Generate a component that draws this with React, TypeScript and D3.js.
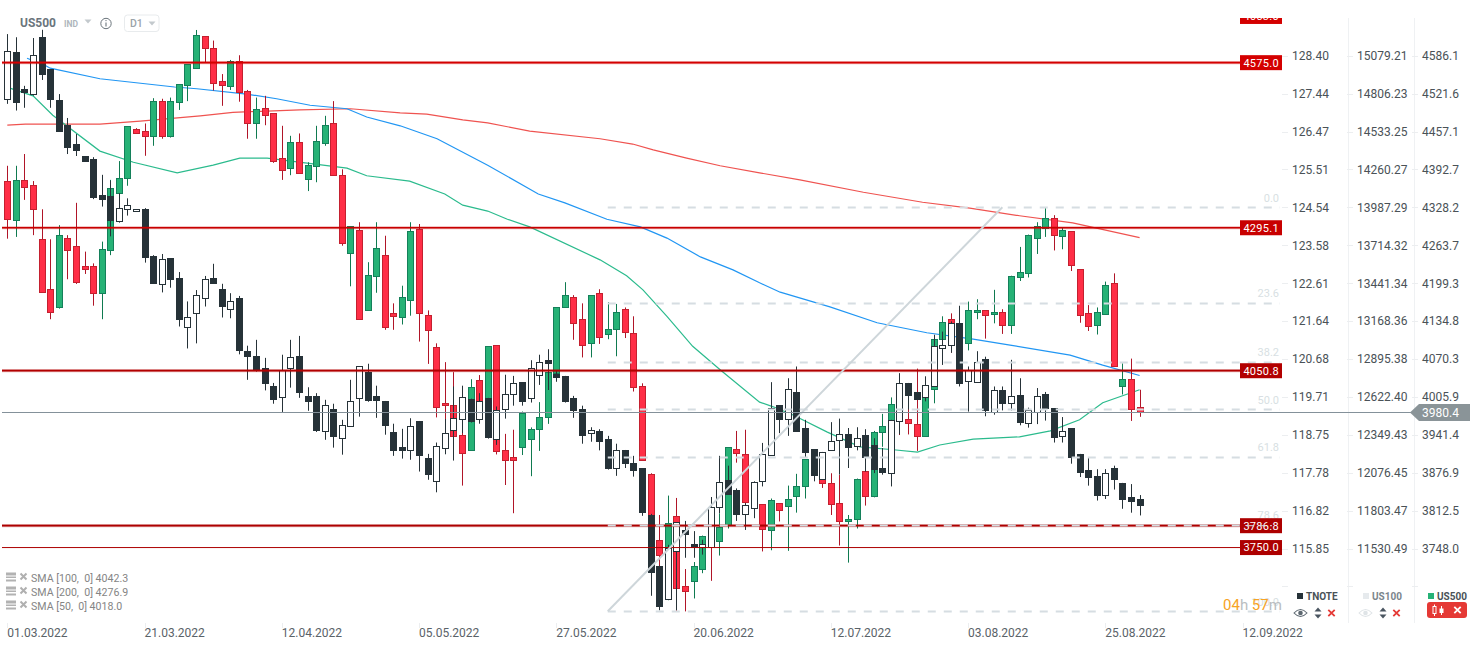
import React from "react";
import * as d3 from "d3";

// [open, high, low, close] per daily bar
const us500Ohlc: number[][] = [
[4373,4399,4275,4309],[4306,4399,4278,4374],[4374,4419,4341,4363],[4366,4373,4281,4325],[4274,4325,4185,4185],
[4189,4274,4138,4151],[4158,4298,4156,4281],[4277,4281,4206,4256],[4262,4336,4198,4202],[4228,4253,4215,4224],
[4228,4233,4161,4183],[4183,4270,4138,4257],[4255,4375,4247,4361],[4352,4407,4329,4379],[4379,4466,4365,4466],
[4461,4463,4454,4455],[4458,4471,4416,4450],[4450,4514,4433,4510],[4510,4513,4445,4449],[4449,4515,4447,4510],
[4508,4538,4494,4538],[4537,4572,4509,4572],[4566,4630,4566,4621],[4619,4619,4575,4600],[4600,4612,4527,4539],
[4544,4555,4501,4537],[4535,4579,4528,4577],[4577,4587,4508,4525],[4526,4528,4445,4471],[4472,4515,4445,4495],
[4498,4518,4468,4486],[4488,4488,4404,4407],[4413,4467,4375,4392],[4396,4450,4383,4439],[4439,4454,4386,4387],
[4377,4405,4356,4400],[4399,4467,4371,4442],[4438,4484,4433,4469],[4471,4509,4382,4384],[4384,4393,4263,4268],
[4251,4296,4194,4296],[4289,4303,4137,4139],[4154,4235,4154,4213],[4212,4303,4183,4260],[4248,4280,4120,4125],
[4148,4165,4120,4144],[4142,4195,4129,4175],[4170,4303,4144,4288],[4292,4300,4100,4149],[4145,4153,4062,4119],
[4090,4097,3971,3988],[3995,4065,3967,3992],[3992,4048,3938,3940],[3941,3961,3855,3910],[3916,4036,3916,4022],
[4034,4043,3967,3998],[3938,4092,3938,4092],[4094,4094,3908,3913],[3915,3943,3856,3898],[3903,3950,3808,3898],
[3921,3981,3907,3979],[3934,3954,3871,3951],[3952,3997,3914,3971],[3972,4057,3960,4049],[4046,4158,4046,4158],
[4158,4201,4158,4179],[4175,4179,4103,4131],[4138,4165,4073,4095],[4097,4179,4073,4179],[4182,4189,4096,4107],
[4113,4167,4104,4121],[4121,4164,4075,4151],[4155,4158,4106,4116],[4114,4143,4015,4022],[4024,4029,3897,3898],
[3874,3876,3740,3740],[3762,3805,3706,3737],[3689,3838,3660,3791],[3803,3834,3642,3680],[3685,3713,3641,3675],
[3692,3725,3663,3718],[3713,3770,3706,3770],[3774,3788,3693,3754],[3761,3808,3736,3784],[3788,3920,3782,3920],
[3917,3948,3894,3910],[3908,3950,3802,3827],[3853,3853,3825,3825],[3823,3823,3743,3781],[3779,3833,3745,3830],
[3825,3825,3794,3813],[3820,3855,3744,3833],[3837,3875,3809,3855],[3854,3900,3833,3900],[3882,3904,3882,3904],
[3882,3882,3851,3860],[3859,3876,3805,3823],[3825,3873,3753,3795],[3794,3805,3724,3798],[3798,3867,3782,3867],
[3879,3882,3821,3838],[3838,3948,3835,3946],[3947,3977,3921,3956],[3967,4005,3967,3993],[3984,3984,3941,3965],
[3969,4003,3942,3961],[3959,4054,3914,3939],[3939,4023,3939,4023],[4020,4111,3995,4105],[4104,4143,4104,4134],
[4138,4148,4081,4131],[4114,4114,4040,4040],[4097,4168,4085,4153],[4150,4172,4138,4153],[4153,4153,4105,4145],
[4148,4188,4131,4151],[4150,4155,4113,4129],[4128,4212,4113,4211],[4209,4261,4203,4219],[4217,4282,4209,4282],
[4276,4303,4249,4296],[4294,4327,4278,4311],[4310,4315,4255,4281],[4279,4294,4257,4289],[4288,4288,4220,4230],
[4223,4223,4132,4146],[4148,4162,4118,4127],[4128,4158,4112,4151],[4147,4202,4147,4196],[4199,4216,4057,4058],
[4024,4063,4010,4036],[4037,4071,3965,3986],[3988,4018,3972,3980.4],
];

const tnoteOhlc: number[][] = [
[127.30,128.95,127.17,128.51],[128.49,128.87,127.00,127.23],[127.54,127.63,127.07,127.48],[127.41,128.85,127.38,128.41],[128.88,129.06,127.78,127.94],
[128.06,128.06,127.07,127.30],[127.26,127.42,126.49,126.49],[126.63,126.81,125.89,126.08],[126.14,126.40,125.84,126.00],[125.83,125.83,125.72,125.72],
[125.76,125.81,124.74,124.80],[124.84,125.36,124.55,124.75],[124.82,125.21,123.79,124.22],[124.19,124.89,124.14,124.51],[124.48,124.76,124.32,124.58],
[124.43,124.48,124.43,124.48],[124.49,124.51,123.12,123.27],[123.28,123.31,122.59,122.59],[122.57,123.34,122.36,123.21],[123.23,123.23,122.48,122.69],
[122.72,122.88,121.49,121.68],[121.49,122.13,120.93,121.73],[121.83,122.42,121.06,122.29],[122.21,122.78,122.00,122.70],[122.72,123.09,122.60,122.61],
[122.44,122.58,121.72,122.02],[121.93,122.34,121.70,122.13],[122.21,122.27,120.78,120.88],[120.86,121.00,120.13,120.73],[120.73,121.15,120.34,120.39],
[120.43,120.69,119.86,120.06],[119.98,120.05,119.52,119.65],[119.69,120.77,119.31,120.37],[120.42,121.15,119.93,120.71],[120.73,121.25,119.67,119.83],
[119.71,119.94,119.34,119.60],[119.71,119.79,118.80,118.86],[118.82,119.62,118.60,119.48],[119.38,119.52,118.40,118.69],[118.64,119.11,118.22,118.97],
[118.95,120.13,118.94,119.59],[119.66,120.47,119.19,120.47],[120.33,120.54,119.57,119.62],[119.71,119.98,119.16,119.61],[119.59,119.59,118.73,118.99],
[118.80,119.01,118.19,118.35],[118.42,118.88,118.12,118.33],[118.35,119.15,118.09,118.95],[119.08,119.08,117.79,118.20],[118.14,118.24,117.58,117.72],
[117.54,118.53,117.26,118.44],[118.38,119.13,118.23,118.77],[118.84,119.96,118.07,119.15],[119.13,119.98,118.77,119.69],[119.65,119.65,119.04,119.08],
[119.13,119.79,119.01,119.59],[119.67,119.67,118.63,118.66],[118.62,119.45,118.47,119.37],[119.38,120.26,119.14,119.76],[119.76,120.23,119.47,120.04],
[120.07,120.07,119.47,119.58],[119.66,120.63,119.55,120.43],[120.25,120.77,120.00,120.58],[120.63,120.91,119.87,120.57],[120.28,120.38,120.08,120.19],
[120.23,120.23,119.55,119.59],[119.67,119.72,119.16,119.37],[119.38,119.47,118.50,118.71],[118.77,118.92,118.55,118.85],[118.82,118.87,118.33,118.58],
[118.62,118.70,117.84,117.87],[117.88,118.50,117.68,118.34],[118.34,118.34,117.88,118.00],[118.00,118.19,117.66,117.82],[117.88,117.88,116.66,116.75],
[116.68,116.71,114.62,115.23],[115.39,115.39,114.25,114.35],[114.54,115.92,114.52,115.84],[115.76,116.50,114.25,116.50],[116.30,116.53,115.59,116.19],
[115.94,116.27,115.59,115.87],[115.86,116.05,115.67,115.94],[115.86,117.14,115.86,116.88],[116.88,118.19,116.73,117.52],[117.58,117.94,117.22,117.22],
[117.32,117.36,116.53,116.70],[116.70,116.98,116.30,116.93],[116.86,117.54,116.60,117.52],[117.55,118.52,117.41,118.23],[118.21,120.07,118.20,119.42],
[119.48,119.48,118.77,119.13],[119.13,120.17,118.70,119.89],[119.82,120.47,118.82,118.82],[118.90,119.11,118.16,118.30],[118.36,118.36,117.54,117.69],
[117.60,118.29,117.58,118.29],[118.34,119.05,118.33,118.57],[118.59,119.14,117.71,118.74],[118.74,118.90,117.88,118.41],[118.44,118.92,118.33,118.64],
[118.72,118.87,117.79,118.15],[118.47,118.64,117.75,117.86],[117.88,118.39,117.71,117.79],[117.74,119.11,117.41,119.10],[119.09,120.30,118.74,120.05],
[120.05,120.05,119.37,119.73],[119.82,119.82,119.65,119.65],[119.69,120.22,119.58,119.99],[119.96,121.28,119.96,120.98],[120.94,121.36,120.51,121.01],
[121.01,121.62,120.82,121.58],[121.58,122.02,119.96,120.06],[120.10,120.47,119.32,120.38],[120.07,120.86,120.06,120.58],[120.66,120.72,119.20,119.35],
[119.32,119.96,119.24,119.87],[119.87,119.96,119.35,119.55],[119.54,120.64,119.35,119.71],[119.74,120.17,118.97,119.05],[119.03,119.42,118.91,119.36],
[119.31,119.92,119.00,119.71],[119.76,119.82,119.09,119.41],[119.41,119.41,118.53,118.66],[118.69,119.18,118.53,118.82],[118.90,118.90,117.99,118.16],
[118.24,118.24,117.65,117.79],[117.83,118.16,117.43,117.64],[117.67,117.85,117.05,117.18],[117.19,117.85,117.09,117.74],[117.88,117.94,117.33,117.60],
[117.50,117.50,116.84,117.08],[117.14,117.47,116.74,117.03],[117.09,117.19,116.67,116.93],
];

// [bar index, value]
const sma100: number[][] = [[2.3,4582],[4.4,4570],[5,4565],[10.8,4547],[19.5,4533],[22.1,4530],[27.9,4521],[31.4,4513],[35.3,4502],[39.6,4496],[41.9,4482],[45.8,4467],[50.1,4445],[56,4400],[61.9,4351],[65,4336],[69.9,4308],[73.8,4295],[76.9,4276],[80.8,4244],[84.6,4222],[87.7,4200],[90.1,4184],[95.9,4159],[101.4,4132],[107.2,4115],[112.6,4104],[116.9,4094],[123.9,4077],[127.7,4060],[132,4042.3]];
const sma200: number[][] = [[0,4468],[2.1,4470],[10.8,4470],[15.5,4475],[22.5,4484],[26.3,4490],[34.1,4494],[40,4496],[45.8,4489],[48.9,4487],[53.1,4477],[56,4472],[60.9,4458],[69.1,4445],[72.9,4436],[75.3,4426],[79.2,4412],[83.1,4399],[87.7,4387],[92.4,4375],[99.8,4354],[106.7,4337],[112.2,4327],[118,4314],[124.2,4302],[132,4276.9]];
const sma50: number[][] = [[0.3,4531],[3,4518],[5.3,4485],[10.8,4424],[14.7,4405],[19.8,4387],[24,4400],[27.1,4412],[30.3,4412],[39.6,4395],[41.9,4382],[46.9,4373],[51,4351],[53.1,4332],[56,4322],[58.3,4308],[60.9,4295],[69.1,4239],[72.2,4212],[74.1,4188],[76.9,4143],[79.9,4092],[83.1,4052],[87.7,3997],[89.3,3989],[91.6,3975],[95.6,3946],[99.4,3921],[103.3,3916],[106.1,3912],[108.7,3924],[112.6,3934],[118,3938],[121.6,3948],[125,3967],[127.7,3996],[132,4018]];

const levelValues = [4575.0, 4295.1, 4050.8, 3786.8, 3750.0];
// the levels as they sit on the picture's price scale
const levelPlotted = [4574.4, 4293.6, 4050.4, 3786.8, 3749.6];
const levelColors = ["#d40000", "#c80000", "#b20000", "#ad0000", "#ad0000"];
const levelWidths = [2, 2, 2, 2, 1];

const fibRatios = [0, 23.6, 38.2, 50, 61.8, 78.6, 100];
const fibHigh = 4328.4;
const fibLow = 3641.2;
const fibStartBar = 70;
const fibApexBar = 116;

const tnoteTicks = ["128.40","127.44","126.47","125.51","124.54","123.58","122.61","121.64","120.68","119.71","118.75","117.78","116.82","115.85"];
const us100Ticks = ["15079.21","14806.23","14533.25","14260.27","13987.29","13714.32","13441.34","13168.36","12895.38","12622.40","12349.43","12076.45","11803.47","11530.49"];
const us500Ticks = ["4586.1","4521.6","4457.1","4392.7","4328.2","4263.7","4199.3","4134.8","4070.3","4005.9","3941.4","3876.9","3812.5","3748.0"];

const dateLabels = ["01.03.2022","21.03.2022","12.04.2022","05.05.2022","27.05.2022","20.06.2022","12.07.2022","03.08.2022","25.08.2022","12.09.2022"];
const dateLabelStep = 16;

const smaLegend = ["SMA [100,  0] 4042.3", "SMA [200,  0] 4276.9", "SMA [50,  0] 4018.0"];
const lastPrice = 3980.4;
const clippedLevel = 4653;

const FONT = "Roboto, sans-serif";
const xScale = d3.scaleLinear().domain([0, 132]).range([7.3, 1139.6]);
const yUs500 = d3.scaleLinear().domain([4681, 3575.35]).range([0, 650]);
const yTnote = d3.scaleLinear().domain([129.82, 113.237]).range([0, 650]);

const snap = (v: number) => Math.round(v) + 0.5;

type Style = { up: string; down: string; upStroke: string; downStroke: string; upWick: string; downWick: string };
const us500Style: Style = { up: "#26b276", down: "#ff2e46", upStroke: "#14805a", downStroke: "#c4202f", upWick: "#0f7a50", downWick: "#b01528" };
const tnoteStyle: Style = { up: "#ffffff", down: "#263238", upStroke: "#263238", downStroke: "#263238", upWick: "#263238", downWick: "#263238" };

function Candles({ data, y, s }: { data: number[][]; y: d3.ScaleLinear<number, number>; s: Style }) {
  return (
    <g>
      {data.map(([o, h, l, c], i) => {
        const up = c >= o;
        const x = Math.round(xScale(i));
        const top = snap(y(Math.max(o, c)));
        const bottom = Math.max(snap(y(Math.min(o, c))), top + 2);
        return (
          <g key={i}>
            <line x1={x + 0.5} x2={x + 0.5} y1={y(h)} y2={y(l)} stroke={up ? s.upWick : s.downWick} strokeWidth={1} />
            <rect x={x - 2.5} y={top} width={6} height={bottom - top} fill={up ? s.up : s.down} stroke={up ? s.upStroke : s.downStroke} strokeWidth={1} />
          </g>
        );
      })}
    </g>
  );
}

function Sma({ data, color }: { data: number[][]; color: string }) {
  const line = d3.line<number[]>().x((d) => xScale(d[0])).y((d) => yUs500(d[1])).curve(d3.curveLinear);
  return <path d={line(data) ?? ""} fill="none" stroke={color} strokeWidth={1.2} />;
}

function Arrows({ x, y }: { x: number; y: number }) {
  return <path d={`M${x - 3.5} ${y - 1.5} L${x} ${y - 5.5} L${x + 3.5} ${y - 1.5} Z M${x - 3.5} ${y + 1.5} L${x} ${y + 5.5} L${x + 3.5} ${y + 1.5} Z`} fill="#4a5560" />;
}
function Cross({ x, y, color = "#e53935", w = 1.8, r = 3.2 }: { x: number; y: number; color?: string; w?: number; r?: number }) {
  return <path d={`M${x - r} ${y - r} L${x + r} ${y + r} M${x + r} ${y - r} L${x - r} ${y + r}`} stroke={color} strokeWidth={w} fill="none" />;
}
function Eye({ x, y, color }: { x: number; y: number; color: string }) {
  return (
    <g>
      <path d={`M${x - 6.5} ${y} Q${x} ${y - 7} ${x + 6.5} ${y} Q${x} ${y + 7} ${x - 6.5} ${y} Z`} fill="none" stroke={color} strokeWidth={1.1} />
      <circle cx={x} cy={y} r={2.3} fill={color} />
    </g>
  );
}

export default function App() {
  const rightAxisX = [1292, 1357, 1422];
  const columns = [tnoteTicks, us100Ticks, us500Ticks];
  const sepX = [1348.5, 1414.5];
  const tickY = us500Ticks.map((t) => yUs500(+t));
  const fibY = fibRatios.map((r) => yUs500(fibHigh - ((fibHigh - fibLow) * r) / 100));
  const x0 = xScale(fibStartBar);
  const lastY = snap(yUs500(lastPrice));
  return (
    <svg width={1482} height={650} style={{ position: "absolute", left: 0, top: 0, background: "#fff", fontFamily: FONT }}>
      <defs>
        <clipPath id="top-clip"><rect x={0} y={18} width={1482} height={632} /></clipPath>
      </defs>

      {/* separators */}
      {sepX.map((x) => <line key={x} x1={x} x2={x} y1={18} y2={623} stroke="#eff1f3" />)}

      {/* SMAs */}
      <Sma data={sma200} color="#ef5350" />
      <Sma data={sma100} color="#2196f3" />
      <Sma data={sma50} color="#2bbb8d" />

      <Candles data={us500Ohlc} y={yUs500} s={us500Style} />
      <Candles data={tnoteOhlc} y={yTnote} s={tnoteStyle} />

      {/* horizontal levels */}
      {levelPlotted.map((v, i) => {
        const y = yUs500(v);
        return (
          <g key={v}>
            {levelWidths[i] > 1 && <line x1={2} x2={1240} y1={y} y2={y} stroke={levelColors[i]} strokeOpacity={0.3} strokeWidth={3.2} />}
            <line x1={2} x2={1240} y1={y} y2={y} stroke={levelColors[i]} strokeWidth={levelWidths[i] > 1 ? 1.7 : 1} />
          </g>
        );
      })}

      {/* fibonacci */}
      {fibY.map((y) => (
        <line key={y} x1={x0} x2={1280} y1={snap(y)} y2={snap(y)} stroke="#d6dde2" strokeWidth={2} strokeDasharray="8 8" />
      ))}
      <line x1={x0} y1={fibY[6]} x2={xScale(fibApexBar)} y2={fibY[0]} stroke="#ced6da" strokeWidth={2} />
      {fibRatios.map((r, i) => (
        <text key={r} x={1279} y={fibY[i] - 8.5} textAnchor="end" dominantBaseline="middle" fontSize={11} fill="#d8dfe3">{r.toFixed(1)}</text>
      ))}

      {/* level tags */}
      <g clipPath="url(#top-clip)">
        <rect x={1240} y={yUs500(clippedLevel) - 7.5} width={42} height={15} fill="#d40000" />
        <text x={1279} y={yUs500(clippedLevel) + 1} textAnchor="end" dominantBaseline="middle" fontSize={11} letterSpacing={0.3} fill="#fff">{clippedLevel.toFixed(1)}</text>
      </g>
      {levelValues.map((v, i) => (
        <g key={v}>
          <rect x={1240} y={yUs500(levelPlotted[i]) - 7.5} width={42} height={15} fill={levelColors[i]} />
          <text x={1279} y={yUs500(levelPlotted[i]) + 1} textAnchor="end" dominantBaseline="middle" fontSize={11} letterSpacing={0.3} fill="#fff">{v.toFixed(1)}</text>
        </g>
      ))}
      {/* fib dash shows through the 3786.8 tag */}
      <line x1={1246} x2={1272} y1={yUs500(3786.8)} y2={yUs500(3786.8)} stroke="#d6dde2" strokeWidth={1.2} strokeDasharray="8 4" opacity={0.8} />

      {/* axes */}
      {columns.map((col, c) =>
        col.map((t, i) => (
          <g key={t}>
            <line x1={rightAxisX[c] - 10} x2={rightAxisX[c] - 4} y1={snap(tickY[i])} y2={snap(tickY[i])} stroke="#eceef0" />
            <text x={rightAxisX[c]} y={tickY[i] + 1.2} dominantBaseline="middle" fontSize={12} fill="#4a5257">{t}</text>
          </g>
        ))
      )}
      {rightAxisX.map((x) => <line key={x} x1={x - 10} x2={x - 4} y1={586.5} y2={586.5} stroke="#eceef0" />)}

      {/* last price */}
      <line x1={2} x2={1412} y1={lastY} y2={lastY} stroke="#84919a" strokeWidth={1} />
      <path d={`M1410 ${lastY} L1419 ${lastY - 8.5} L1470 ${lastY - 8.5} L1470 ${lastY + 8.5} L1419 ${lastY + 8.5} Z`} fill="#8a9498" />
      <text x={1422} y={lastY + 1} dominantBaseline="middle" fontSize={12} fill="#fff">{lastPrice.toFixed(1)}</text>

      {/* date axis */}
      {dateLabels.map((d, i) => {
        const x = xScale(i * dateLabelStep);
        return (
          <g key={d}>
            <line x1={snap(x)} x2={snap(x)} y1={623} y2={628} stroke="#eceef0" />
            <text x={x} y={634} dominantBaseline="middle" fontSize={12} fill="#5a6268">{d}</text>
          </g>
        );
      })}

      {/* countdown */}
      <text x={1223} y={606} dominantBaseline="middle" fontSize={15} fontWeight={400}>
        <tspan fill="#f7a325">04</tspan><tspan fill="#b9bdc0">h </tspan><tspan fill="#f7a325">57</tspan><tspan fill="#b9bdc0">m</tspan>
      </text>

      {/* series legend */}
      <rect x={1297} y={593} width={6} height={6} fill="#263238" />
      <text x={1306} y={597.5} dominantBaseline="middle" fontSize={10} fontWeight={700} fill="#4a5257">TNOTE</text>
      <Eye x={1300.5} y={613} color="#5c6770" />
      <Arrows x={1318} y={613} />
      <Cross x={1331.5} y={613} />

      <rect x={1363} y={593} width={6} height={6} fill="#e6eaed" />
      <text x={1372} y={597.5} dominantBaseline="middle" fontSize={10} fontWeight={700} fill="#7b858c">US100</text>
      <Eye x={1365.5} y={613} color="#dfe4e7" />
      <Arrows x={1383} y={613} />
      <Cross x={1396.5} y={613} />

      <rect x={1428} y={593} width={6} height={6} fill="#26b276" />
      <text x={1437} y={597.5} dominantBaseline="middle" fontSize={10} fontWeight={700} fill="#4a5257">US500</text>
      <rect x={1427} y={602} width={40} height={16} rx={3} fill="#e53935" />
      <g stroke="#fff" strokeWidth={1}>
        <line x1={1434.5} x2={1434.5} y1={604.5} y2={616} />
        <rect x={1433} y={606.5} width={3} height={7} fill="#e53935" />
        <line x1={1441.5} x2={1441.5} y1={606} y2={615} />
        <rect x={1440} y={609} width={3} height={3.5} fill="#fff" />
      </g>
      <Cross x={1457.5} y={610} color="#fff" r={3.2} w={1.8} />

      {/* SMA legend */}
      {smaLegend.map((t, i) => {
        const y = 577.5 + i * 14;
        return (
          <g key={t}>
            <rect x={6} y={y - 5} width={10} height={3} fill="#b2b2b2" />
            <rect x={6} y={y - 1} width={10} height={1.5} fill="#b2b2b2" />
            <rect x={6} y={y + 2} width={10} height={2} fill="#b2b2b2" />
            <Cross x={23.5} y={y - 1} color="#b0b0b0" r={3} w={2} />
            <text x={31} y={y + 1.5} dominantBaseline="middle" fontSize={10.6} fill="#858585" style={{ whiteSpace: "pre" }}>{t}</text>
          </g>
        );
      })}

      {/* header */}
      <text x={20} y={24} dominantBaseline="middle" fontSize={12} fontWeight={700} fill="#6b757c">US500</text>
      <text x={64} y={24.5} dominantBaseline="middle" fontSize={8.5} fontWeight={700} fill="#aeb6bc">IND</text>
      <path d="M84.5 19.5 L91.5 19.5 L88 23.5 Z" fill="#c3c9cd" />
      <circle cx={106} cy={23.5} r={5.2} fill="none" stroke="#6b757c" strokeWidth={1} />
      <line x1={106} x2={106} y1={22.5} y2={26.5} stroke="#6b757c" strokeWidth={1.1} />
      <circle cx={106} cy={20.6} r={0.7} fill="#6b757c" />
      <rect x={124.5} y={15} width={34.5} height={16.5} rx={3} fill="#fff" stroke="#e8ebed" />
      <text x={130} y={24.3} dominantBaseline="middle" fontSize={10.5} fontWeight={500} fill="#9aa3a9">D1</text>
      <path d="M148.5 21.5 L155.5 21.5 L152 25.5 Z" fill="#c3c9cd" />
    </svg>
  );
}
